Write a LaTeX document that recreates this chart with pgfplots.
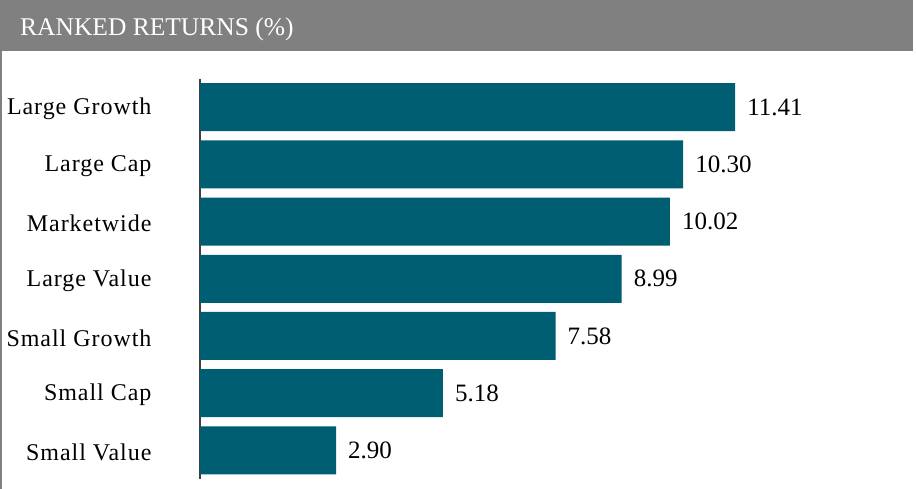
\documentclass[border=0pt]{standalone}
\usepackage{fontspec}
\setmainfont{Liberation Serif}
\newfontfamily\labfont[LetterSpace=4]{Liberation Serif}
\usepackage{pgfplots}
\pgfplotsset{compat=1.18}
\definecolor{barteal}{RGB}{0,94,115}
\definecolor{headgray}{RGB}{128,128,128}

\begin{document}
\begin{tikzpicture}[x=1pt,y=1pt]
% frame and header band
\path[use as bounding box] (0,0) rectangle (916,489);
\fill[headgray] (0,438) rectangle (913,489);
\fill[headgray] (0,0) rectangle (2,438);
\node[anchor=base west, text=white, inner sep=0,
      font=\fontsize{25.5}{30}\selectfont] at (20,453) {RANKED RETURNS (\%)};

\begin{axis}[
    at={(200pt,10pt)}, anchor=south west,
    scale only axis,
    width=703.5pt, height=400.4pt,
    xmin=0, xmax=15,
    ymin=-0.5, ymax=6.5,
    xbar, bar width=48pt,
    axis x line=none,
    axis y line=left,
    y axis line style={-, line width=1.5pt, black!75},
    ytick={0,...,6},
    yticklabels={Small Value, Small Cap, Small Growth, Large Value,
                 Marketwide, Large Cap, Large Growth},
    major tick length=0pt,
    yticklabel style={font=\labfont\fontsize{24}{28}\selectfont,
                      anchor=east, xshift=-45pt, yshift=-2pt},
    point meta=x,
    nodes near coords,
    nodes near coords align={horizontal},
    every node near coord/.append style={font=\fontsize{25}{28}\selectfont,
                                         inner sep=0pt, xshift=12pt, black},
    /pgf/number format/.cd, fixed, fixed zerofill, precision=2,
    assume math mode=true,
  ]
\addplot[draw=none, fill=barteal] coordinates {
  (2.90,0) (5.18,1) (7.58,2) (8.99,3) (10.02,4) (10.30,5) (11.41,6)};
\end{axis}
\end{tikzpicture}
\end{document}
